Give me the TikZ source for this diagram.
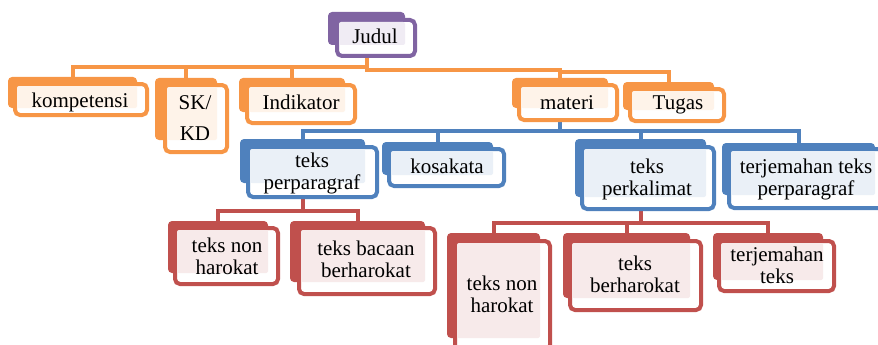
\documentclass[tikz,border=0pt]{standalone}
\usepackage{fontspec}
\setmainfont{Liberation Serif}
\usetikzlibrary{fit,calc,backgrounds}
\definecolor{cO}{HTML}{F79646}
\definecolor{cP}{HTML}{8064A2}
\definecolor{cB}{HTML}{4F81BD}
\definecolor{cR}{HTML}{C0504D}
\tikzset{
  backbox/.style={inner sep=0pt, outer sep=0pt, rounded corners=4pt},
  frontbox/.style={inner sep=0pt, outer sep=0pt, line width=4pt, fill=white, rounded corners=5pt},
  lbl/.style={font=\fontsize{21}{22}\selectfont, inner sep=0pt, anchor=base},
  conn/.style={line width=4pt}
}
\newcommand\tbox[6]{%
  \node[backbox, fill=#2, fit={(#3)(#4)}] (#1-b) {};
  \node[frontbox, draw=#2, fit={($(#5)+(2,2)$)($(#6)+(-2,-2)$)}] (#1) {};
  \fill[#2!12, rounded corners=2pt] ($(#5)+(4,4)$) rectangle (#1-b.south east);
}
\newcommand\ml[1]{\begin{tabular}[t]{@{}c@{}}#1\end{tabular}}
\begin{document}
\begin{tikzpicture}[x=1pt,y=-1pt]
\useasboundingbox (0,0) rectangle (878,345);
\clip (0,0) rectangle (878,345);
% bus levels
\coordinate (yO1) at (0,67);
\coordinate (yO2) at (0,70);
\coordinate (yO3) at (0,72);
\coordinate (yB) at (0,131);
\coordinate (yR1) at (0,211);
\coordinate (yR2) at (0,223);
% boxes
\tbox{judul}{cP}{328,12}{405,45}{335,18}{417,58}
\tbox{komp}{cO}{8,77}{137,108}{13,82}{149,117}
\tbox{skkd}{cO}{155,78}{217,140}{163,83}{229,154}
\tbox{indik}{cO}{239,78}{345,112}{245,83}{357,125}
\tbox{materi}{cO}{512,78}{608,108}{517,83}{619,122}
\tbox{tugas}{cO}{623,82}{714,110}{628,87}{726,123}
\tbox{tpp}{cB}{240,139}{365,183}{246,145}{379,199}
\tbox{kosa}{cB}{382,142}{493,175}{387,147}{506,188}
\tbox{tpk}{cB}{575,139}{706,197}{580,145}{716,211}
\tbox{tjp}{cB}{722,143}{875,195}{727,147}{886,210}
\tbox{tnh1}{cR}{168,221}{268,273}{173,226}{280,286}
\tbox{tbb}{cR}{290,221}{425,282}{297,226}{437,296}
\tbox{tnh2}{cR}{447,233}{540,338}{453,239}{552,352}
\tbox{tbh}{cR}{563,233}{690,298}{568,239}{703,312}
\tbox{tjt}{cR}{713,233}{823,280}{717,239}{836,293}
% connectors, behind the boxes
\begin{pgfonlayer}{background}
\begin{scope}[conn, cO]
\draw (judul-b.south) -- (judul-b.south |- yO1) -| (komp-b.north);
\draw (judul-b.south |- yO1) -| (skkd-b.north);
\draw (judul-b.south |- yO1) -| (indik-b.north);
\draw (judul-b.south) -- (judul-b.south |- yO2) -| (materi-b.north);
\draw (materi-b.north |- yO2) -- (materi-b.north |- yO3) -| (tugas-b.north);
\end{scope}
\begin{scope}[conn, cB]
\draw (materi-b.south) -- (materi-b.south |- yB) -| (tpp-b.north);
\draw (materi-b.south |- yB) -| (kosa-b.north);
\draw (materi-b.south |- yB) -| (tpk-b.north);
\draw (materi-b.south |- yB) -| (tjp-b.north);
\end{scope}
\begin{scope}[conn, cR]
\draw (tpp-b.south) -- (tpp-b.south |- yR1) -| (tnh1-b.north);
\draw (tpp-b.south |- yR1) -| (tbb-b.north);
\draw (tpk-b.south) -- (tpk-b.south |- yR2) -| (tnh2-b.north);
\draw (tpk-b.south |- yR2) -| (tbh-b.north);
\draw (tpk-b.south |- yR2) -| (tjt-b.north);
\end{scope}
\end{pgfonlayer}
% labels
\node[lbl] (l-judul) at (375,44) {Judul};
\node[lbl] (l-komp) at (80,107) {kompetensi};
\node[lbl] (l-skkd) at (195,110) {\ml{SK/\\[9pt]KD}};
\node[lbl] (l-indik) at (301,110) {Indikator};
\node[lbl] (l-materi) at (567,110) {materi};
\node[lbl] (l-tugas) at (678,110) {Tugas};
\node[lbl] (l-tpp) at (312,167) {\ml{teks\\perparagraf}};
\node[lbl] (l-kosa) at (447,173) {kosakata};
\node[lbl] (l-tpk) at (647,173) {\ml{teks\\perkalimat}};
\node[lbl] (l-tjp) at (806,173) {\ml{terjemahan teks\\perparagraf}};
\node[lbl] (l-tnh1) at (227,252) {\ml{teks non\\harokat}};
\node[lbl] (l-tbb) at (366,255) {\ml{teks bacaan\\berharokat}};
\node[lbl] (l-tnh2) at (502,290) {\ml{teks non\\harokat}};
\node[lbl] (l-tbh) at (635,270) {\ml{teks\\berharokat}};
\node[lbl] (l-tjt) at (777,261) {\ml{terjemahan\\teks}};
\end{tikzpicture}
\end{document}
